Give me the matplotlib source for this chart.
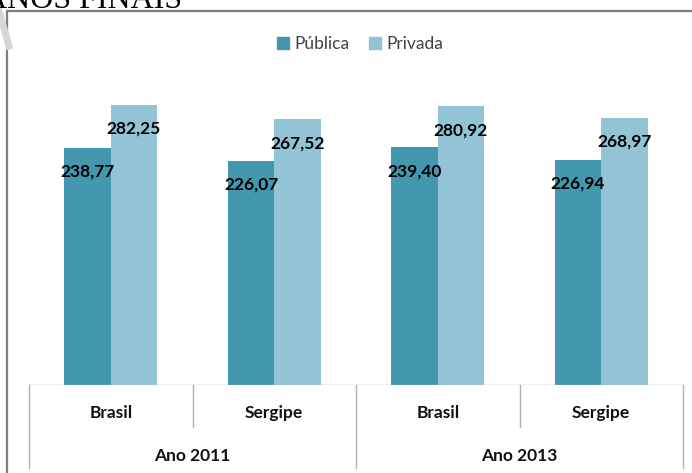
import matplotlib.pyplot as plt
import matplotlib.transforms as mtransforms
from matplotlib.patches import Rectangle, Patch
from matplotlib.lines import Line2D

# --------------------------
# Data
# --------------------------
places = ["Brasil", "Sergipe", "Brasil", "Sergipe"]
years = ["Ano 2011", "Ano 2013"]
publica = [238.77, 226.07, 239.40, 226.94]
privada = [282.25, 267.52, 280.92, 268.97]
series_names = ["Pública", "Privada"]

COL_PUB = "#4398b0"
COL_PRI = "#93c4d6"
GRID = "#b0b0b0"

plt.rcParams["font.family"] = ["Lato", "DejaVu Sans"]

W, H = 692, 473
fig = plt.figure(figsize=(W / 100, H / 100), dpi=100)


def fx(px):
    return px / W


def fy(py):
    return 1 - py / H


# axes: baseline at y=385 px, x from 29 to 683 px
top_px = 55
ax = fig.add_axes([fx(29), fy(385), fx(683) - fx(29), (385 - top_px) / H])
ax.set_xlim(-0.5, len(places) - 0.5)
ax.set_ylim(0, (385 - top_px) / 0.993)

bw = 0.284
x = list(range(len(places)))
bars_pub = ax.bar([i - bw / 2 for i in x], publica, width=bw, color=COL_PUB)
bars_pri = ax.bar([i + bw / 2 for i in x], privada, width=bw, color=COL_PRI)

for bars, vals in [(bars_pub, publica), (bars_pri, privada)]:
    for b, v in zip(bars, vals):
        ax.annotate(f"{v:.2f}".replace(".", ","),
                    (b.get_x() + b.get_width() / 2, v),
                    xytext=(0, -24), textcoords="offset pixels",
                    ha="center", va="center", fontsize=12.5,
                    fontweight="bold", color="black")

for s in ax.spines.values():
    s.set_visible(False)
ax.set_xticks([])
ax.set_yticks([])
ax.axhline(0, color=GRID, lw=1)

# category axis below plot
tr = mtransforms.blended_transform_factory(ax.transData, fig.transFigure)
for i, name in enumerate(places):
    ax.text(i, fy(413), name, transform=tr, ha="center", va="center",
            fontsize=12.5, fontweight="bold", color="#111111")
for xs in [0.5, 2.5]:
    ax.plot([xs, xs], [fy(385), fy(427)], transform=tr, color=GRID,
            lw=1, clip_on=False)
for xs in [-0.5, 1.5, 3.5]:
    ax.plot([xs, xs], [fy(385), fy(468)], transform=tr, color=GRID,
            lw=1, clip_on=False)
for j, yr in enumerate(years):
    ax.text(2 * j + 0.5, fy(456), yr, transform=tr, ha="center",
            va="center", fontsize=12.5, fontweight="bold", color="#111111")

# legend
handles = [Patch(color=COL_PUB), Patch(color=COL_PRI)]
fig.legend(handles, series_names, loc="center", ncol=2,
           bbox_to_anchor=(fx(360), fy(44)), frameon=False,
           fontsize=12.5, labelcolor="#404040", handlelength=0.7,
           handleheight=0.7, handletextpad=0.3, columnspacing=1.1)

# chart frame (cut off at right / bottom)
fig.patches.append(Rectangle((fx(7), fy(600)), 2, fy(11) - fy(600),
                             transform=fig.transFigure, fill=False,
                             edgecolor="#7f7f7f", lw=1.6))

# page leftovers: cut title and watermark stroke
fig.text(fx(-16), fy(8), "ANOS FINAIS", family="Liberation Serif",
         fontsize=23, va="baseline", ha="left", color="black")
fig.add_artist(Line2D([fx(-2), fx(9)], [fy(8), fy(46)],
                      transform=fig.transFigure, color="#d6d6d6", lw=5))

fig.savefig("out.png", dpi=100)
